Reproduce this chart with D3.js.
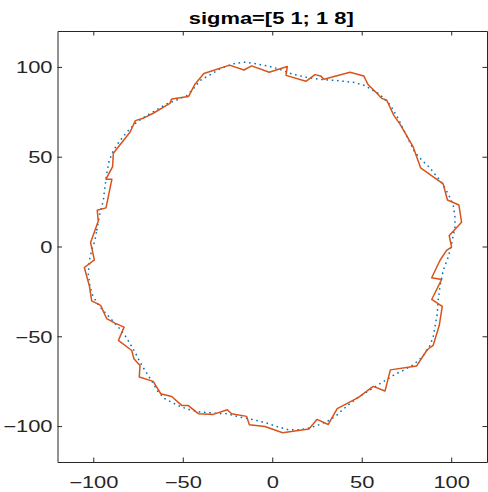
<!DOCTYPE html>
<html>
<head>
<meta charset="utf-8">
<script src="https://cdn.jsdelivr.net/npm/d3@7"></script>
<style>
  body { margin: 0; background: #fff; }
  text { font-family: "Liberation Sans", Arial, Helvetica, sans-serif; }
</style>
</head>
<body>
<div id="wrapper"></div>
<script>

// reference boundary (blue, dotted)
const refX = [-98.1,-96.3,-94.4,-93.5,-92.5,-91.1,-88.8,-85.1,-80.4,-75.8,
  -70.2,-64.6,-59.0,-53.4,-47.8,-44.1,-40.4,-33.9,-29.2,-20.8,
  -15.3,-8.7,0.6,6.1,10.8,19.2,26.6,36.0,45.3,51.8,
  56.4,59.8,65.4,67.6,70.4,74.7,79.7,83.5,88.1,92.2,
  94.6,98.3,101.1,102.1,102.1,100.2,98.3,95.5,93.7,92.7,
  92.2,90.9,89.9,87.7,83.5,78.8,73.2,68.5,64.8,60.2,
  52.7,48.0,43.4,38.8,36.0,31.8,26.6,21.1,15.5,8.9,
  2.5,-3.1,-10.6,-18.0,-25.5,-32.0,-40.4,-46.0,-50.6,-55.3,
  -59.9,-63.7,-67.4,-71.1,-73.9,-76.7,-79.5,-82.3,-86.0,-90.7,
  -95.3,-97.8,-100.3,-101.8,-102.8,-102.2,-100.9,-99.1]
const refY = [8.9,18.2,25.6,33.0,40.5,47.9,53.4,59.0,64.6,69.2,
  72.9,76.1,79.4,81.6,84.0,87.8,92.4,96.1,98.9,102.0,
  102.6,101.7,99.8,97.9,96.1,94.2,93.1,92.4,91.4,89.6,
  86.8,85.0,79.4,76.1,71.1,62.3,52.5,48.2,43.8,38.6,
  35.8,29.3,23.4,16.3,10.7,1.5,-6.0,-13.4,-22.6,-30.1,
  -37.5,-44.9,-50.5,-56.0,-61.8,-65.9,-69.0,-71.2,-73.6,-76.4,
  -81.1,-83.9,-87.5,-91.3,-94.0,-96.8,-99.1,-101.0,-102.0,-102.0,
  -100.2,-98.3,-96.4,-95.0,-93.1,-92.8,-92.2,-90.9,-89.4,-87.2,
  -84.8,-81.1,-74.8,-69.0,-64.4,-58.8,-54.1,-49.5,-44.9,-39.7,
  -34.7,-31.6,-27.3,-22.6,-15.2,-7.8,-2.2,3.3]

// noisy boundary (orange, solid)
const noisyX = [-57.2,-56.2,-46.8,-43.2,-38.2,-23.9,-15.8,-11.5,-1.7,8.4,
  7.7,18.8,23.9,27.0,28.9,43.4,51.2,53.5,57.4,61.1,
  63.9,68.0,71.3,78.8,82.9,95.5,97.9,104.3,105.8,98.9,
  100.2,97.4,93.7,89.1,94.6,89.1,95.0,93.3,89.9,86.6,
  80.7,66.0,63.0,56.4,48.0,36.3,31.3,25.0,20.5,5.8,
  -4.1,-12.8,-14.3,-22.7,-25.1,-33.0,-41.3,-46.9,-50.6,-56.2,
  -62.3,-66.5,-74.3,-73.9,-77.3,-78.5,-86.0,-82.8,-87.9,-92.5,
  -95.9,-100.9,-102.1,-105.0,-99.4,-101.5,-97.2,-97.8,-92.9,-89.6,
  -92.9,-89.2,-88.8,-79.5,-76.5,-71.7,-66.5]
const noisyY = [79.7,82.2,83.5,90.4,96.3,101.0,98.3,100.6,97.0,100.2,
  95.3,92.0,95.7,95.0,93.1,97.0,94.9,90.2,86.4,82.5,
  81.6,72.9,68.3,55.3,43.8,34.9,25.9,23.1,13.5,6.1,
  -0.4,-2.2,-7.8,-17.4,-18.4,-29.5,-33.4,-44.0,-55.1,-57.5,
  -66.5,-68.7,-80.5,-77.9,-84.2,-90.3,-99.1,-96.3,-101.6,-103.7,
  -100.2,-99.3,-94.6,-93.1,-90.9,-93.5,-93.1,-88.6,-88.5,-83.5,
  -82.0,-75.1,-72.7,-66.2,-62.5,-57.9,-52.3,-44.9,-42.7,-40.2,
  -32.8,-30.3,-22.3,-11.7,-7.4,2.2,14.2,20.2,21.5,37.5,
  37.5,44.5,51.9,63.6,70.1,71.6,74.2]

const xTicks = [-100, -50, 0, 50, 100]
const yTicks = [-100, -50, 0, 50, 100]
const xLimits = [-120, 120]
const yLimits = [-120, 120]
const titleText = "sigma=[5 1; 1 8]"

function drawChart() {

  // 1. Access data

  const refPoints = refX.map((x, i) => [x, refY[i]])
  const noisyPoints = noisyX.map((x, i) => [x, noisyY[i]])

  // 2. Create chart dimensions

  let dimensions = {
    width: 488,
    height: 492,
    margin: {
      top: 31,
      right: 1,
      bottom: 30,
      left: 57.5,
    },
  }
  dimensions.boundedWidth = dimensions.width - dimensions.margin.left - dimensions.margin.right
  dimensions.boundedHeight = dimensions.height - dimensions.margin.top - dimensions.margin.bottom

  // 3. Draw canvas

  const wrapper = d3.select("#wrapper")
    .append("svg")
      .attr("width", dimensions.width)
      .attr("height", dimensions.height)

  const bounds = wrapper.append("g")
    .attr("transform", `translate(${dimensions.margin.left}, ${dimensions.margin.top})`)

  // 4. Create scales

  const xScale = d3.scaleLinear()
    .domain(xLimits)
    .range([0, dimensions.boundedWidth])

  const yScale = d3.scaleLinear()
    .domain(yLimits)
    .range([dimensions.boundedHeight, 0])

  // 5. Draw data

  const lineGenerator = d3.line()
    .x(d => xScale(d[0]))
    .y(d => yScale(d[1]))
    .curve(d3.curveLinearClosed)

  bounds.append("path")
      .attr("d", lineGenerator(refPoints))
      .attr("fill", "none")
      .attr("stroke", "#0072BD")
      .attr("stroke-width", 1.5)
      .attr("stroke-dasharray", "1.6 3.7")

  bounds.append("path")
      .attr("d", lineGenerator(noisyPoints))
      .attr("fill", "none")
      .attr("stroke", "#D95319")
      .attr("stroke-width", 1.5)
      .attr("stroke-linejoin", "round")

  // 6. Draw peripherals

  const tickLen = -4.5
  const stretch = "scale(1.37,1)"

  const styleAxis = g => {
    g.attr("font-size", 16)
      .attr("font-family", null)
    g.select(".domain").attr("stroke", "#262626")
    g.selectAll(".tick line").attr("stroke", "#262626")
    g.selectAll(".tick text").attr("fill", "#262626")
  }

  const xAxis = bounds.append("g")
      .attr("transform", `translate(0, ${dimensions.boundedHeight})`)
      .call(d3.axisBottom(xScale).tickValues(xTicks).tickSizeInner(tickLen).tickSizeOuter(0))
      .call(styleAxis)
  xAxis.selectAll(".tick text")
      .attr("y", 0)
      .attr("dy", null)
      .attr("transform", `translate(0, 26.3) ${stretch}`)

  const yAxis = bounds.append("g")
      .call(d3.axisLeft(yScale).tickValues(yTicks).tickSizeInner(tickLen).tickSizeOuter(0))
      .call(styleAxis)
  yAxis.selectAll(".tick text")
      .attr("x", 0)
      .attr("dy", null)
      .attr("transform", `translate(-5, 5.8) ${stretch}`)

  bounds.append("g")
      .call(d3.axisTop(xScale).tickValues(xTicks).tickSizeInner(tickLen).tickSizeOuter(0).tickFormat(""))
      .call(styleAxis)

  bounds.append("g")
      .attr("transform", `translate(${dimensions.boundedWidth}, 0)`)
      .call(d3.axisRight(yScale).tickValues(yTicks).tickSizeInner(tickLen).tickSizeOuter(0).tickFormat(""))
      .call(styleAxis)

  wrapper.append("text")
      .attr("transform", `translate(${dimensions.margin.left + dimensions.boundedWidth / 2 - 1}, 24) ${stretch}`)
      .attr("text-anchor", "middle")
      .attr("font-size", 16)
      .attr("font-weight", "bold")
      .attr("fill", "#000")
      .text(titleText)
}
drawChart()
</script>
</body>
</html>
